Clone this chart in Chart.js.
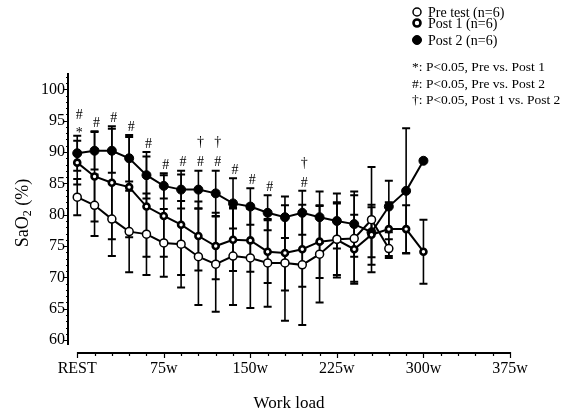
<!DOCTYPE html>
<html>
<head>
<meta charset="utf-8">
<script src="https://cdn.jsdelivr.net/npm/chart.js@4.4.0/dist/chart.umd.min.js"></script>
<style>
  html, body { margin: 0; padding: 0; background: #fff; }
  #wrap { width: 583px; height: 413px; }
</style>
</head>
<body>
<div id="wrap"><canvas id="c" width="583" height="413"></canvas></div>
<script>
// Workload steps (W); 0 is the resting measurement
const workloads = [0, 15, 30, 45, 60, 75, 90, 105, 120, 135, 150, 165, 180, 195, 210, 225, 240, 255, 270, 285, 300];
const xTickValues = [0, 75, 150, 225, 300, 375];
const yTickValues = [60, 65, 70, 75, 80, 85, 90, 95, 100];

// SaO2 means and SDs (%)
const preTest   = [82.8, 81.5, 79.3, 77.3, 76.9, 75.5, 75.3, 73.3, 72.1, 73.4, 73.1, 72.3, 72.3, 72.0, 73.7, 76.1, 76.2, 79.2, 74.6, null, null];
const preTestSD = [2.9, 4.9, 5.9, 6.5, 6.5, 5.4, 6.9, 7.7, 7.6, 7.8, 8.0, 7.0, 9.2, 9.6, 7.7, 5.7, 6.9, 8.4, 1.5, null, null];
const post1     = [88.3, 86.1, 85.1, 84.4, 81.3, 79.8, 78.4, 76.6, 75.0, 76.0, 75.9, 74.1, 73.9, 74.5, 75.7, 76.0, 74.5, 76.8, 77.7, 77.7, 74.1];
const post1SD   = [3.5, 7.2, 9.0, 8.0, 8.0, 6.5, 8.0, 5.5, 5.3, 5.0, 5.0, 5.0, 6.0, 6.0, 5.8, 6.0, 5.5, 4.8, 4.3, 3.8, 5.1];
const post2     = [89.8, 90.2, 90.2, 89.0, 86.3, 84.6, 84.0, 84.0, 83.4, 81.8, 81.3, 80.3, 79.6, 80.3, 79.6, 79.0, 78.5, 77.2, 81.3, 83.8, 88.6];
const post2SD   = [2.8, 3.0, 3.5, 3.7, 3.7, 2.0, 3.0, 3.0, 3.6, 4.0, 2.9, 2.8, 3.3, 3.5, 4.1, 4.4, 5.2, 4.0, 4.1, 10.0, 0];

// Significance marks, per workload
const starLoads   = [0];
const hashLoads   = [0, 15, 30, 45, 60, 75, 90, 105, 120, 135, 150, 165, 195];
const daggerLoads = [105, 120, 195];

const noteLines = ['*: P<0.05, Pre vs. Post 1', '#: P<0.05, Pre vs. Post 2', '\u2020: P<0.05, Post 1 vs. Post 2'];

const serif = "'Liberation Serif', 'Times New Roman', serif";
Chart.defaults.font.family = serif;
Chart.defaults.color = '#000';

function points(values) {
  return workloads.map((w, i) => ({ x: w, y: values[i] })).filter(p => p.y !== null);
}

// Vertical SD bars with caps, under the lines and markers
const errorBars = {
  id: 'errorBars',
  beforeDatasetsDraw(chart) {
    const ctx = chart.ctx, ys = chart.scales.y;
    ctx.save();
    ctx.strokeStyle = '#000';
    chart.data.datasets.forEach((ds, di) => {
      const meta = chart.getDatasetMeta(di);
      ds.data.forEach((p, i) => {
        const sd = ds.sd[workloads.indexOf(p.x)];
        if (!sd) return;
        const el = meta.data[i];
        const top = ys.getPixelForValue(p.y + sd), bot = ys.getPixelForValue(p.y - sd);
        ctx.lineWidth = 1.6;
        ctx.beginPath(); ctx.moveTo(el.x, top); ctx.lineTo(el.x, bot); ctx.stroke();
        ctx.lineWidth = 2;
        ctx.beginPath();
        ctx.moveTo(el.x - 4, top); ctx.lineTo(el.x + 4, top);
        ctx.moveTo(el.x - 4, bot); ctx.lineTo(el.x + 4, bot);
        ctx.stroke();
      });
    });
    ctx.restore();
  }
};

// Offset axis lines with minor tick marks
const axes = {
  id: 'axes',
  beforeDatasetsDraw(chart) {
    const ctx = chart.ctx, xs = chart.scales.x, ys = chart.scales.y, a = chart.chartArea;
    ctx.save();
    ctx.strokeStyle = '#000';
    ctx.lineWidth = 2;
    // y axis
    const yx = a.left;
    ctx.beginPath();
    ctx.moveTo(yx, ys.getPixelForValue(59.2));
    ctx.lineTo(yx, ys.getPixelForValue(102.6));
    ctx.stroke();
    ctx.lineWidth = 1;
    for (let v = 60; v <= 102; v++) {
      const py = Math.round(ys.getPixelForValue(v)) + 0.5;
      const len = v % 5 === 0 ? 4 : 2;
      ctx.beginPath(); ctx.moveTo(yx - len, py); ctx.lineTo(yx, py); ctx.stroke();
    }
    // x axis
    const xy = a.bottom;
    ctx.lineWidth = 2;
    ctx.beginPath();
    ctx.moveTo(xs.getPixelForValue(0), xy);
    ctx.lineTo(xs.getPixelForValue(375), xy);
    ctx.stroke();
    ctx.lineWidth = 1.2;
    for (let w = 0; w <= 375; w += 15) {
      const px = Math.round(xs.getPixelForValue(w)) + 0.5;
      const len = w % 75 === 0 ? 5 : 3;
      ctx.beginPath(); ctx.moveTo(px, xy - 1); ctx.lineTo(px, xy + len); ctx.stroke();
    }
    ctx.restore();
  }
};

// Axis titles, significance marks and the key
const annotations = {
  id: 'annotations',
  afterDraw(chart) {
    const ctx = chart.ctx, xs = chart.scales.x, ys = chart.scales.y, a = chart.chartArea;
    ctx.save();
    ctx.fillStyle = '#000';

    // y title: SaO2 (%) with subscript
    ctx.save();
    ctx.translate(23, (a.top + a.bottom) / 2);
    ctx.rotate(-Math.PI / 2);
    const big = '18px ' + serif, small = '12px ' + serif;
    ctx.font = big; const w1 = ctx.measureText('SaO').width; const w3 = ctx.measureText(' (%)').width;
    ctx.font = small; const w2 = ctx.measureText('2').width;
    let sx = -(w1 + w2 + w3) / 2;
    ctx.textBaseline = 'middle';
    ctx.font = big; ctx.fillText('SaO', sx, 0); sx += w1;
    ctx.font = small; ctx.fillText('2', sx, 5); sx += w2;
    ctx.font = big; ctx.fillText(' (%)', sx, 0);
    ctx.restore();

    // x title
    ctx.font = '17px ' + serif;
    ctx.textAlign = 'center';
    ctx.textBaseline = 'middle';
    ctx.fillText('Work load', (a.left + a.right) / 2, 404);

    // significance marks stacked above the highest cap of each workload
    ctx.font = '14px ' + serif;
    const sets = chart.data.datasets;
    workloads.forEach(w => {
      const marks = [];
      if (starLoads.includes(w)) marks.push('*');
      if (hashLoads.includes(w)) marks.push('#');
      if (daggerLoads.includes(w)) marks.push('\u2020');
      if (!marks.length) return;
      const i = workloads.indexOf(w);
      let capTop = Infinity;
      sets.forEach(ds => {
        const idx = ds.data.findIndex(p => p.x === w);
        if (idx < 0) return;
        const v = ds.data[idx].y + (ds.sd[i] || 0);
        capTop = Math.min(capTop, ys.getPixelForValue(v));
      });
      const px = xs.getPixelForValue(w) + 2;
      let y = capTop;
      marks.forEach((m, k) => {
        if (k === 0) y -= (m === '*' ? 5 : 8);
        else y -= (m === '\u2020' ? 20 : 15);
        ctx.fillText(m, px, m === '*' ? y + 3 : y);
      });
    });

    // key
    ctx.textAlign = 'left';
    ctx.font = '14px ' + serif;
    const rows = [12, 23, 40];
    sets.forEach((ds, k) => {
      const cy = rows[k];
      ctx.beginPath();
      ctx.arc(417, cy, ds.keyRadius, 0, Math.PI * 2);
      ctx.fillStyle = ds.pointBackgroundColor;
      ctx.fill();
      ctx.lineWidth = ds.keyBorder;
      ctx.strokeStyle = '#000';
      ctx.stroke();
      ctx.fillStyle = '#000';
      ctx.fillText(ds.label, 428, cy + 1);
    });
    ctx.font = '13.5px ' + serif;
    [67, 84, 100].forEach((cy, k) => ctx.fillText(noteLines[k], 412, cy));
    ctx.restore();
  }
};

new Chart(document.getElementById('c'), {
  type: 'line',
  data: {
    datasets: [
      { label: 'Pre test (n=6)', data: points(preTest), sd: preTestSD,
        borderColor: '#000', borderWidth: 2, tension: 0,
        pointRadius: 4, pointBackgroundColor: '#fff', pointBorderColor: '#000', pointBorderWidth: 1.5,
        keyRadius: 4, keyBorder: 1.5 },
      { label: 'Post 1 (n=6)', data: points(post1), sd: post1SD,
        borderColor: '#000', borderWidth: 2, tension: 0,
        pointRadius: 3, pointBackgroundColor: '#fff', pointBorderColor: '#000', pointBorderWidth: 2.6,
        keyRadius: 3.5, keyBorder: 2.6 },
      { label: 'Post 2 (n=6)', data: points(post2), sd: post2SD,
        borderColor: '#000', borderWidth: 2, tension: 0,
        pointRadius: 4.5, pointBackgroundColor: '#000', pointBorderColor: '#000', pointBorderWidth: 1,
        keyRadius: 4.5, keyBorder: 1 }
    ]
  },
  options: {
    responsive: false,
    animation: false,
    devicePixelRatio: 1,
    layout: { padding: { top: 73, right: 73, left: 0, bottom: 0 } },
    plugins: { legend: { display: false }, tooltip: { enabled: false } },
    scales: {
      x: {
        type: 'linear', min: -8, max: 375,
        grid: { display: false, drawTicks: false }, border: { display: false },
        afterBuildTicks: s => { s.ticks = xTickValues.map(v => ({ value: v })); },
        afterFit: s => { s.height = 60; },
        ticks: { font: { size: 16, family: serif }, color: '#000', padding: 6, maxRotation: 0, autoSkip: false,
                 callback: v => v === 0 ? 'REST' : v + 'w' }
      },
      y: {
        type: 'linear', min: 57.94, max: 102.6,
        grid: { display: false, drawTicks: false }, border: { display: false },
        afterBuildTicks: s => { s.ticks = yTickValues.map(v => ({ value: v })); },
        afterFit: s => { s.width = 68; },
        ticks: { font: { size: 16, family: serif }, color: '#000', padding: 3 }
      }
    }
  },
  plugins: [axes, errorBars, annotations]
});
</script>
</body>
</html>
